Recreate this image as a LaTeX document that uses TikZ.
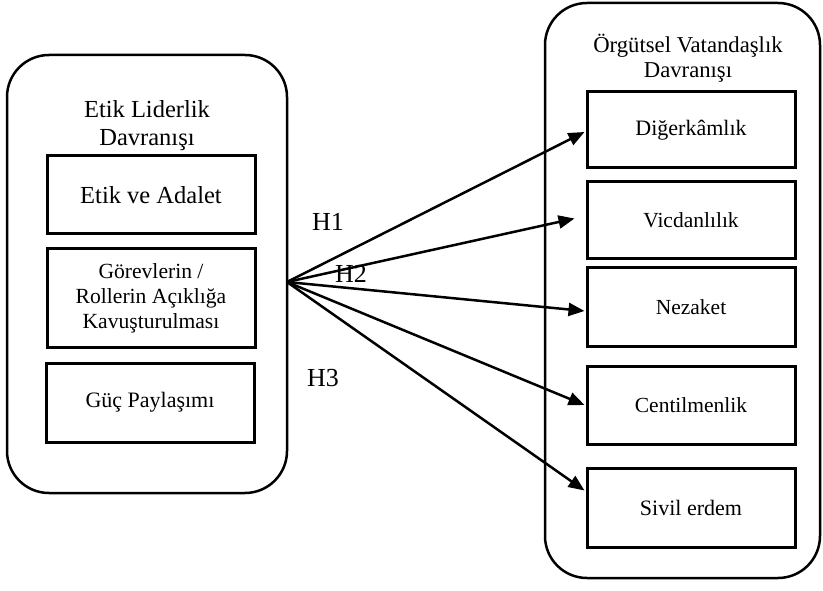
\documentclass[tikz,border=0pt]{standalone}
\usepackage{fontspec}
\setmainfont{Liberation Serif}
\usetikzlibrary{arrows.meta,calc}
\tikzset{
  container/.style={draw,line width=2.5pt,rounded corners=42pt,inner sep=0pt},
  itembox/.style={draw,line width=3pt,inner sep=0pt,minimum width=208pt,align=center},
  rel/.style={line width=2.5pt,-{Triangle[length=16pt,width=13pt]}},
  hyp/.style={font=\fontsize{26}{28}\selectfont,inner sep=0pt},
  title/.style={align=center,inner sep=0pt}
}
\begin{document}
\begin{tikzpicture}[x=1pt,y=-1pt]
\useasboundingbox (0,0) rectangle (823,591);
% containers
\node[container,minimum width=280pt,minimum height=438pt] (L) at (147,274) {};
\node[container,minimum width=275pt,minimum height=575pt] (R) at (682.5,290.5) {};
% titles
\node[title,font=\fontsize{24.5}{28}\selectfont] (Lt) at (147,126) {Etik Liderlik\\Davranışı};
\node[title,font=\fontsize{22.7}{25}\selectfont] (Rt) at (688,58) {Örgütsel Vatandaşlık\\Davranışı};
% left boxes
\node[itembox,minimum height=78pt,font=\fontsize{24.5}{26}\selectfont] (EA) at (151,195) {Etik ve Adalet};
\node[itembox,minimum height=98pt,font=\fontsize{21.6}{25}\selectfont] (GR) at (151,298) {Görevlerin /\\Rollerin Açıklığa\\Kavuşturulması};
\node[itembox,minimum height=79pt,font=\fontsize{22}{25}\selectfont] (GP) at (150,402.5) {Güç Paylaşımı};
% right boxes
\node[itembox,minimum height=76pt,font=\fontsize{22}{25}\selectfont] (D) at (691,130) {Diğerkâmlık};
\node[itembox,minimum height=77pt,font=\fontsize{21.5}{25}\selectfont] (V) at (691,220.5) {Vicdanlılık};
\node[itembox,minimum height=78pt,font=\fontsize{21.5}{25}\selectfont] (N) at (691,307) {Nezaket};
\node[itembox,minimum height=78pt,font=\fontsize{21.5}{25}\selectfont] (C) at (691,405) {Centilmenlik};
\node[itembox,minimum height=79pt,font=\fontsize{22}{25}\selectfont] (S) at (691,507.5) {Sivil erdem};
% origin of arrows
\coordinate (O) at (287,282);
\draw[rel] (O) -- ($(D.west)+(-1,2)$);
\draw[rel] (O) -- ($(V.west)+(-11,-2)$);
\draw[rel] (O) -- ($(N.west)+(-1,4)$);
\draw[rel] (O) -- ($(C.west)+(-1,0)$);
\draw[rel] (O) -- ($(S.west)+(-1,-17)$);
% hypothesis labels
\node[hyp] (H1) at (328,222) {H1};
\node[hyp] (H2) at (351,274) {H2};
\node[hyp] (H3) at (323,378) {H3};
\end{tikzpicture}
\end{document}
